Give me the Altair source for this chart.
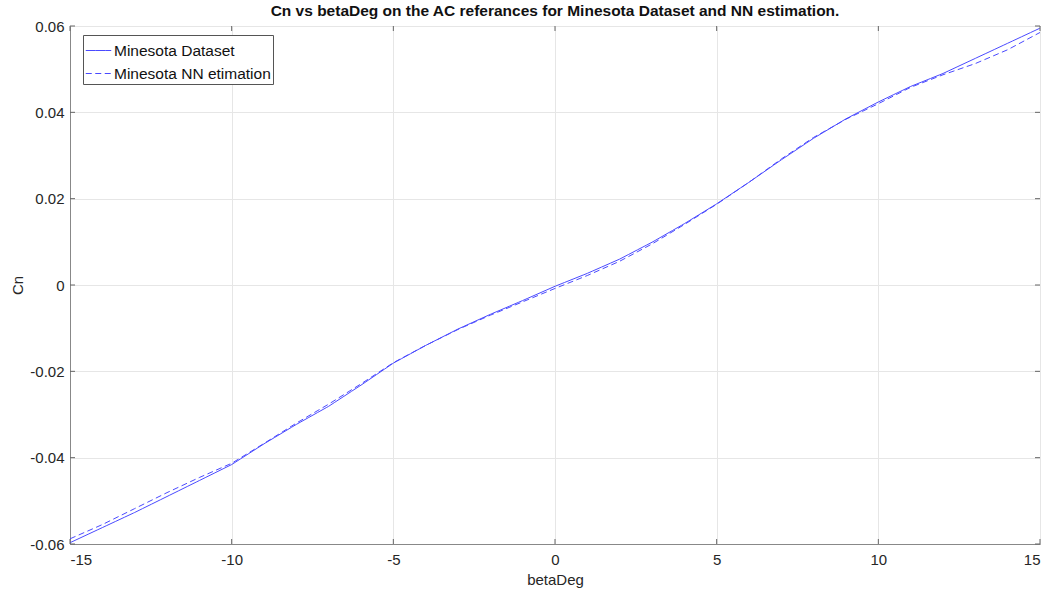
import altair as alt
import pandas as pd

beta = [-15, -14, -13, -12, -11, -10, -9, -8, -7, -6, -5, -4, -3, -2, -1,
        0, 1, 2, 3, 4, 5, 6, 7, 8, 9, 10, 11, 12, 13, 14, 15]
cn_dataset = [-0.0597, -0.0562, -0.0527, -0.0490, -0.0453, -0.0416, -0.0368, -0.0323,
              -0.0281, -0.0232, -0.0181, -0.0140, -0.0102, -0.0068, -0.0036,
              -0.0003, 0.0027, 0.0060, 0.0099, 0.0142, 0.0188, 0.0238, 0.0290,
              0.0340, 0.0385, 0.0424, 0.0460, 0.0490, 0.0525, 0.0560, 0.0595]
cn_nn = [-0.0588, -0.0555, -0.0518, -0.0481, -0.0446, -0.0413, -0.0367, -0.0320,
         -0.0276, -0.0229, -0.0180, -0.0140, -0.0103, -0.0070, -0.0039,
         -0.0008, 0.0022, 0.0055, 0.0095, 0.0140, 0.0187, 0.0238, 0.0292,
         0.0342, 0.0384, 0.0420, 0.0458, 0.0487, 0.0513, 0.0545, 0.0585]
series_names = ["Minesota Dataset", "Minesota NN etimation"]
x_ticks = [-15, -10, -5, 0, 5, 10, 15]
y_ticks = [-0.06, -0.04, -0.02, 0, 0.02, 0.04, 0.06]

rows = []
for b, v in zip(beta, cn_dataset):
    rows.append({"betaDeg": b, "Cn": v, "series": series_names[0]})
for b, v in zip(beta, cn_nn):
    rows.append({"betaDeg": b, "Cn": v, "series": series_names[1]})
df = pd.DataFrame(rows)

W, H = 970, 518
FONT = "Liberation Sans"
LINE = "#4a4aff"
xscale = alt.Scale(domain=[-15, 15], nice=False)
yscale = alt.Scale(domain=[-0.06, 0.06], nice=False)

lines = alt.Chart(df).mark_line(strokeWidth=1, clip=True, color=LINE).encode(
    x=alt.X("betaDeg:Q", scale=xscale,
            axis=alt.Axis(values=x_ticks, title="betaDeg", grid=True, ticks=False,
                          labelPadding=8, titlePadding=5,
                          labelExpr="toString(datum.value)")),
    y=alt.Y("Cn:Q", scale=yscale,
            axis=alt.Axis(values=y_ticks, title="Cn", grid=True, ticks=False,
                          labelPadding=6, titlePadding=4,
                          labelExpr="datum.value == 0 ? '0' : toString(round(datum.value * 100) / 100)")),
    strokeDash=alt.StrokeDash("series:N",
                              scale=alt.Scale(domain=series_names, range=[[10, 0], [6, 3.5]]),
                              legend=alt.Legend(title=None, orient="none", legendX=13, legendY=9,
                                                symbolType="stroke", symbolSize=650,
                                                symbolStrokeWidth=1, symbolStrokeColor=LINE,
                                                symbolOpacity=1,
                                                labelFontSize=15.5,
                                                labelFont=FONT, labelColor="#111",
                                                strokeColor="#555", fillColor="white",
                                                padding=2, rowPadding=1, labelOffset=2)),
)

xt = pd.DataFrame({"t": x_ticks})
yt = pd.DataFrame({"t": y_ticks})
tick_color = "#666"
bx = alt.Chart(xt).mark_rule(color=tick_color).encode(
    x=alt.X("t:Q", scale=xscale), y=alt.value(H), y2=alt.value(H - 5))
tx = alt.Chart(xt).mark_rule(color=tick_color).encode(
    x=alt.X("t:Q", scale=xscale), y=alt.value(0), y2=alt.value(5))
ly = alt.Chart(yt).mark_rule(color=tick_color).encode(
    y=alt.Y("t:Q", scale=yscale), x=alt.value(0), x2=alt.value(5))
ry = alt.Chart(yt).mark_rule(color=tick_color).encode(
    y=alt.Y("t:Q", scale=yscale), x=alt.value(W), x2=alt.value(W - 5))

chart = alt.layer(lines, bx, tx, ly, ry).properties(
    width=W, height=H,
    title=alt.TitleParams("Cn vs betaDeg on the AC referances for Minesota Dataset and NN estimation.",
                          font=FONT, fontSize=15.5, fontWeight="bold", color="#111",
                          anchor="middle", offset=0),
    padding={"left": 70, "top": 26, "right": 14, "bottom": 49},
    autosize=alt.AutoSizeParams(type="none"),
    background="white",
).configure_axis(
    labelFont=FONT, labelFontSize=15, labelColor="#262626",
    titleFont=FONT, titleFontSize=15, titleColor="#262626", titleFontWeight="normal",
    domainColor="#888", gridColor="#e6e6e6", gridWidth=1,
).configure_view(stroke="#888", strokeWidth=1)

chart.save("out.html", embed_options={"renderer": "svg", "actions": False})
